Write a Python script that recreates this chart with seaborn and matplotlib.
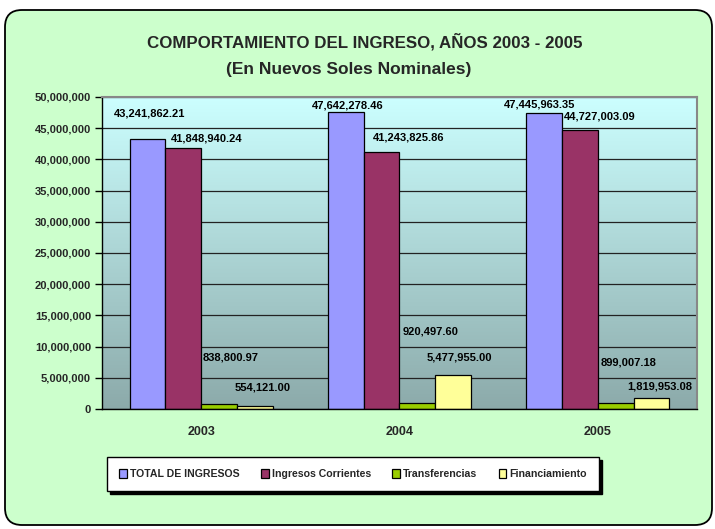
import numpy as np
import pandas as pd
import matplotlib
matplotlib.use("Agg")
import matplotlib.pyplot as plt
import seaborn as sns
from matplotlib.patches import FancyBboxPatch
from matplotlib.ticker import FuncFormatter
from matplotlib import font_manager

# ---------------- data ----------------
years = ["2003", "2004", "2005"]
series = ["TOTAL DE INGRESOS", "Ingresos Corrientes", "Transferencias", "Financiamiento"]
total_ingresos = [43241862.21, 47642278.46, 47445963.35]
ingresos_corrientes = [41848940.24, 41243825.86, 44727003.09]
transferencias = [838800.97, 920497.60, 899007.18]
financiamiento = [554121.00, 5477955.00, 1819953.08]
y_ticks = list(range(0, 50000001, 5000000))

# ---------------- layout / style ----------------
colors = ["#9999FF", "#993366", "#99CC00", "#FFFF99"]
# label offsets in pixels (dx, dy) from top-centre of each bar
label_dx = [[2, 2, -5], [23, 27, 20], [12, 13, 13], [8, 6, 8]]
label_dy = [[26, 6, 8], [9, 14, 13], [46, 72, 41], [18, 17, 11]]

names = {f.name for f in font_manager.fontManager.ttflist}
narrow = "Liberation Sans Narrow" if "Liberation Sans Narrow" in names else "Liberation Sans"
base = "Liberation Sans" if "Liberation Sans" in names else "DejaVu Sans"

sns.set_style("white")
plt.rcParams["font.family"] = [base, "DejaVu Sans"]
plt.rcParams["font.weight"] = "bold"

values = [total_ingresos, ingresos_corrientes, transferencias, financiamiento]
df = pd.DataFrame({
    "Año": [y for _ in series for y in years],
    "Serie": [s for s in series for _ in years],
    "Valor": [v for vals in values for v in vals],
})

W, H = 715, 529
fig = plt.figure(figsize=(W / 100, H / 100), dpi=100)
fig.patch.set_facecolor("white")

# outer rounded green panel
panel = FancyBboxPatch((5 / 100, 4 / 100), 707 / 100, 515 / 100,
                       boxstyle="round,pad=0,rounding_size=0.17",
                       transform=fig.dpi_scale_trans, facecolor="#CCFFCC",
                       edgecolor="black", linewidth=1.3, zorder=-10)
fig.patches.append(panel)

ax = fig.add_axes([102 / W, 1 - 409 / H, (697 - 102) / W, (409 - 97) / H])

# gradient plot-area background
top = np.array([204, 255, 255]) / 255
bot = np.array([140, 170, 170]) / 255
t = np.linspace(0, 1, 256)[:, None]
grad = (top[None, :] * (1 - t) + bot[None, :] * t)[:, None, :]
ax.imshow(grad, aspect="auto", extent=[-0.5, 2.5, 0, 50000000], zorder=0,
          interpolation="bilinear")

sns.barplot(data=df, x="Año", y="Valor", hue="Serie", palette=colors,
            width=0.72, edgecolor="black", linewidth=0.9, saturation=1,
            ax=ax, zorder=2)

ax.set_xlim(-0.5, 2.5)
ax.set_ylim(0, 50000000)
ax.set_yticks(y_ticks)
ax.yaxis.set_major_formatter(FuncFormatter(lambda v, p: f"{v:,.0f}"))
ax.yaxis.grid(True, color="#222222", linewidth=0.9)
ax.set_axisbelow(True)
ax.set_xlabel("")
ax.set_ylabel("")
ax.set_xticks([0, 1, 2])
ax.set_xticklabels(years)
ax.set_xticks([-0.5, 0.5, 1.5, 2.5], minor=True)
ax.tick_params(axis="x", which="major", length=0, pad=12, labelsize=9)
ax.tick_params(axis="x", which="minor", length=5, direction="out", width=1, color="black")
ax.tick_params(axis="y", length=5, direction="out", width=1, color="black", labelsize=8, pad=3)
ax.tick_params(left=True, bottom=True)
for s in ["left", "bottom"]:
    ax.spines[s].set_color("black")
    ax.spines[s].set_linewidth(1)
for s in ["top", "right"]:
    ax.spines[s].set_color("#888888")
    ax.spines[s].set_linewidth(1.5)

# value labels
for i, cont in enumerate(ax.containers):
    for j, bar in enumerate(cont):
        x = bar.get_x() + bar.get_width() / 2
        v = values[i][j]
        ax.annotate(f"{v:,.2f}", (x, v), xytext=(label_dx[i][j], label_dy[i][j]),
                    textcoords="offset pixels", ha="center", va="center",
                    fontsize=8, fontweight="bold", color="black", zorder=5)

handles, labels = ax.get_legend_handles_labels()
if ax.get_legend() is not None:
    ax.get_legend().remove()
leg = fig.legend(handles, labels, loc="center", bbox_to_anchor=(353 / W, 1 - 474 / H),
                 ncol=4, frameon=True, fancybox=False, framealpha=1,
                 edgecolor="black", facecolor="white",
                 shadow={"color": "black", "alpha": 1},
                 prop={"family": [narrow, "DejaVu Sans"], "weight": "bold", "size": 7.6},
                 handlelength=0.75, handleheight=1.0, handletextpad=0.3,
                 columnspacing=2.0, borderpad=1.1)
leg.get_frame().set_linewidth(1)

# titles
fig.text(365 / W, 1 - 42 / H, "COMPORTAMIENTO DEL INGRESO, AÑOS 2003 - 2005",
         ha="center", va="center", fontsize=12.2, fontweight="bold",
         family=[narrow, "DejaVu Sans"])
fig.text(349 / W, 1 - 70 / H, "(En Nuevos Soles Nominales)",
         ha="center", va="center", fontsize=12.5, fontweight="bold",
         family=[narrow, "DejaVu Sans"])

fig.savefig("out.png", dpi=100, facecolor=fig.get_facecolor())
